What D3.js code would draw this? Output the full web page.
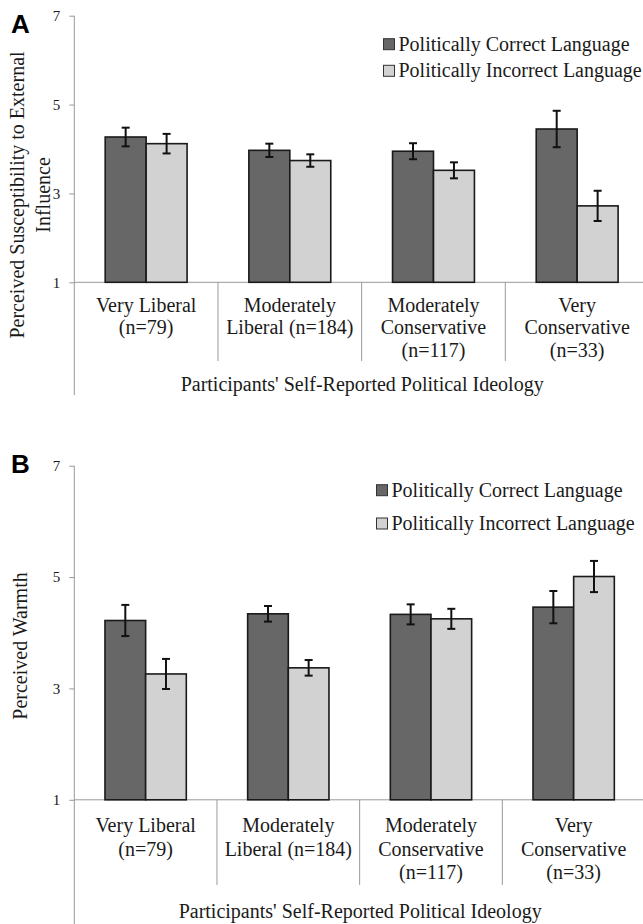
<!DOCTYPE html>
<html>
<head>
<meta charset="utf-8">
<script src="https://cdn.jsdelivr.net/npm/d3@7"></script>
<style>
  body { margin: 0; background: #fff; }
  svg { display: block; }
</style>
</head>
<body>
<svg id="chart" width="643" height="924"></svg>
<script>
// categories and series
var categories = ["Very Liberal\n(n=79)", "Moderately\nLiberal (n=184)",
                  "Moderately\nConservative\n(n=117)", "Very\nConservative\n(n=33)"];
var series = ["Politically Correct Language", "Politically Incorrect Language"];
var yTicks = [1, 3, 5, 7];

// panel A: susceptibility to external influence
var suscCorrect = [4.27, 3.97, 3.95, 4.45];
var suscCorrectErr = [0.21, 0.15, 0.18, 0.41];
var suscIncorrect = [4.12, 3.74, 3.52, 2.72];
var suscIncorrectErr = [0.22, 0.14, 0.18, 0.34];

// panel B: warmth
var warmCorrect = [4.22, 4.34, 4.33, 4.46];
var warmCorrectErr = [0.28, 0.14, 0.18, 0.29];
var warmIncorrect = [3.26, 3.37, 4.25, 5.01];
var warmIncorrectErr = [0.27, 0.14, 0.18, 0.28];

var colors = ["#676767", "#d2d2d2"];
var serif = "'Liberation Serif', Tinos, 'Times New Roman', 'DejaVu Serif', serif";
var svg = d3.select("#chart");

function txt(sel, size) {
  return sel.attr("font-family", serif).style("font-family", serif)
    .style("font-size", size + "px").attr("fill", "#1a1a1a");
}

function drawPanel(p) {
  var g = svg.append("g");

  var y = d3.scaleLinear().domain([1, 7]).range([p.bottom, p.top]);
  var x0 = d3.scaleBand().domain(categories).range([p.left, p.right]);
  var bw = x0.bandwidth();
  var x1 = d3.scaleBand().domain(series).range([bw * 0.215, bw * 0.785]);

  // y axis
  var yAxis = g.append("g")
      .attr("transform", "translate(" + p.left + ",0)")
      .call(d3.axisLeft(y).tickValues(yTicks).tickFormat(d3.format("d"))
        .tickSize(5).tickSizeOuter(0).tickPadding(9));
  yAxis.select(".domain").remove();
  yAxis.selectAll(".tick line").attr("stroke", "#999");
  txt(yAxis.selectAll(".tick text"), 15);

  g.append("line")
      .attr("x1", p.left).attr("x2", p.left)
      .attr("y1", y(7)).attr("y2", p.axisEnd)
      .attr("stroke", "#999").attr("stroke-width", 1);

  // baseline and category separators
  g.append("line")
      .attr("x1", p.left).attr("x2", p.right)
      .attr("y1", y(1)).attr("y2", y(1))
      .attr("stroke", "#999");
  g.selectAll(".sep")
    .data(categories.slice(1))
    .enter().append("line")
      .attr("x1", function(d) { return x0(d); })
      .attr("x2", function(d) { return x0(d); })
      .attr("y1", y(1)).attr("y2", p.sepEnd)
      .attr("stroke", "#999");

  // bars
  var rows = categories.map(function(c, i) {
    return [
      { cat: c, s: series[0], v: p.correct[i], e: p.correctErr[i] },
      { cat: c, s: series[1], v: p.incorrect[i], e: p.incorrectErr[i] }
    ];
  });

  var grp = g.selectAll(".cat")
    .data(rows)
    .enter().append("g")
      .attr("transform", function(d) { return "translate(" + x0(d[0].cat) + ",0)"; });

  grp.selectAll("rect")
    .data(function(d) { return d; })
    .enter().append("rect")
      .attr("x", function(d) { return x1(d.s); })
      .attr("width", x1.bandwidth())
      .attr("y", function(d) { return y(d.v); })
      .attr("height", function(d) { return y(1) - y(d.v); })
      .attr("fill", function(d, i) { return colors[i]; })
      .attr("stroke", "#1a1a1a").attr("stroke-width", 1.6);

  // error bars
  var eb = grp.selectAll(".err")
    .data(function(d) { return d; })
    .enter().append("g")
      .attr("stroke", "#111").attr("stroke-width", 2);
  eb.append("line")
      .attr("x1", function(d) { return x1(d.s) + x1.bandwidth() / 2; })
      .attr("x2", function(d) { return x1(d.s) + x1.bandwidth() / 2; })
      .attr("y1", function(d) { return y(d.v + d.e); })
      .attr("y2", function(d) { return y(d.v - d.e); });
  [1, -1].forEach(function(sign) {
    eb.append("line")
        .attr("x1", function(d) { return x1(d.s) + x1.bandwidth() / 2 - 4; })
        .attr("x2", function(d) { return x1(d.s) + x1.bandwidth() / 2 + 4; })
        .attr("y1", function(d) { return y(d.v + sign * d.e); })
        .attr("y2", function(d) { return y(d.v + sign * d.e); });
  });

  // category labels
  var lab = txt(g.selectAll(".catlab")
    .data(categories)
    .enter().append("text")
      .attr("text-anchor", "middle"), 20);
  lab.selectAll("tspan")
    .data(function(d) { return d.split("\n").map(function(t) { return { t: t, c: d }; }); })
    .enter().append("tspan")
      .attr("x", function(d) { return x0(d.c) + bw / 2; })
      .attr("y", function(d, i) { return p.labelY + i * p.lineGap; })
      .text(function(d) { return d.t; });

  // x title
  txt(g.append("text")
      .attr("x", (p.left + p.right) / 2 + 0.5)
      .attr("y", p.xTitleY)
      .attr("text-anchor", "middle"), 20)
      .text("Participants' Self-Reported Political Ideology");

  // y title
  p.yTitle.forEach(function(t, i) {
    txt(g.append("text")
        .attr("transform", "translate(" + p.yTitleX[i] + "," + p.yTitleMid + ") rotate(-90)")
        .attr("text-anchor", "middle"), 20)
        .text(t);
  });

  // legend
  series.forEach(function(s, i) {
    var ly = p.legendY + i * p.legendGap;
    g.append("rect")
        .attr("x", p.legendX).attr("y", ly - 12)
        .attr("width", 11).attr("height", 11)
        .attr("fill", colors[i]).attr("stroke", "#333").attr("stroke-width", 1);
    txt(g.append("text")
        .attr("x", p.legendX + 15).attr("y", ly), 20)
        .text(s);
  });

  // panel letter
  g.append("text")
      .attr("x", 11).attr("y", p.letterY)
      .style("font-family", "'Liberation Sans', Arial, sans-serif")
      .style("font-weight", "bold").style("font-size", "26px")
      .attr("fill", "#000")
      .text(p.letter);
}

drawPanel({
  letter: "A", letterY: 33,
  top: 15.7, bottom: 282.3, left: 74.3, right: 649,
  axisEnd: 395, sepEnd: 361,
  labelY: 311.5, lineGap: 22.6, xTitleY: 390.5,
  yTitle: ["Perceived Susceptibility to External", "Influence"],
  yTitleX: [23.5, 49.5], yTitleMid: 195,
  legendX: 383.5, legendY: 50.7, legendGap: 26.6,
  correct: suscCorrect, correctErr: suscCorrectErr,
  incorrect: suscIncorrect, incorrectErr: suscIncorrectErr
});

drawPanel({
  letter: "B", letterY: 473,
  top: 465.7, bottom: 799.8, left: 74.3, right: 645,
  axisEnd: 924, sepEnd: 885,
  labelY: 831.7, lineGap: 23.8, xTitleY: 917.7,
  yTitle: ["Perceived Warmth"],
  yTitleX: [27], yTitleMid: 646,
  legendX: 376.5, legendY: 496.7, legendGap: 33.3,
  correct: warmCorrect, correctErr: warmCorrectErr,
  incorrect: warmIncorrect, incorrectErr: warmIncorrectErr
});
</script>
</body>
</html>
